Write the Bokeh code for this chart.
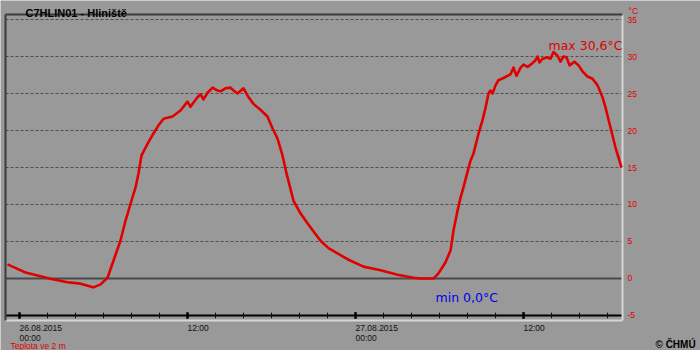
from bokeh.plotting import figure
from bokeh.models import Range1d, Label, ColumnDataSource
from bokeh.core.properties import value
from bokeh.embed import file_html
from bokeh.resources import INLINE

# hours since 26.08.2015 00:00
hours = [-0.86, -0.5, 0.43, 1.5, 2.36, 3.43, 4.36, 5.07, 5.29, 5.79, 6.29, 6.71, 7.21, 7.57,
         7.93, 8.29, 8.5, 8.71, 9.14, 9.57, 9.93, 10.29, 10.93, 11.5, 12.0, 12.21, 12.71,
         12.93, 13.14, 13.43, 13.79, 14.14, 14.36, 14.71, 15.07, 15.29, 15.57, 16.0, 16.29,
         16.71, 17.21, 17.71, 18.07, 18.43, 18.79, 19.07, 19.21, 19.57, 20.07, 20.79, 21.5,
         22.07, 23.43, 24.57, 25.79, 27.0, 28.14, 28.64, 29.57, 29.93, 30.43, 30.79, 31.0,
         31.29, 31.5, 31.71, 32.0, 32.21, 32.43, 32.79, 33.07, 33.29, 33.5, 33.64, 33.79,
         34.0, 34.21, 34.57, 35.07, 35.29, 35.5, 35.79, 36.0, 36.29, 36.64, 36.86, 37.0,
         37.14, 37.36, 37.71, 37.93, 38.14, 38.43, 38.64, 38.86, 39.07, 39.29, 39.64, 39.93,
         40.21, 40.57, 40.93, 41.29, 41.64, 41.86, 42.21, 42.57, 43.0]
temps = [1.9, 1.6, 0.8, 0.3, -0.1, -0.5, -0.7, -1.1, -1.2, -0.8, 0.1, 2.4, 5.1, 7.8,
         10.1, 12.3, 14.2, 16.6, 18.2, 19.6, 20.7, 21.6, 21.9, 22.7, 23.9, 23.2, 24.5,
         24.9, 24.2, 25.1, 25.8, 25.4, 25.3, 25.7, 25.8, 25.4, 25.0, 25.7, 24.7,
         23.6, 22.8, 21.9, 20.3, 18.9, 16.6, 14.2, 13.2, 10.5, 8.8, 6.9, 5.1,
         4.1, 2.6, 1.6, 1.1, 0.5, 0.1, 0.0, 0.0, 0.7, 2.2, 3.8, 6.5,
         9.2, 10.9, 12.3, 14.4, 15.9, 16.9, 19.6, 21.4, 23.1, 25.0, 25.4, 25.0,
         26.1, 26.8, 27.1, 27.6, 28.5, 27.4, 28.5, 28.9, 28.6, 29.1, 29.5, 30.0,
         29.2, 29.7, 29.9, 29.7, 30.6, 30.1, 29.3, 30.0, 29.9, 28.8, 29.3, 28.8,
         28.0, 27.3, 27.0, 26.1, 24.5, 23.1, 20.4, 17.7, 15.0]

x_major_ticks = [0, 12, 24, 36]
x_major_labels = ["26.08.2015\n00:00", "12:00", "27.08.2015\n00:00", "12:00"]
x_minor_ticks = list(range(0, 44, 2))
y_ticks = [-5, 0, 5, 10, 15, 20, 25, 30, 35]
y_tick_labels = ["-5", "0", "5", "10", "15", "20", "25", "30", "35"]
y_grid = [5, 10, 15, 20, 25, 30, 35]

title_text = "C7HLIN01 - Hliniště"
max_text = "max 30,6°C"
min_text = "min 0,0°C"
unit_text = "°C"
series_text = "Teplota ve 2 m"
credit_text = "© ČHMÚ"

BG = "#999999"
RED = "#e00000"
W, H = 700, 350
# plot area (pixels of margin around it) and its data extent
M_LEFT, M_RIGHT, M_TOP, M_BOTTOM = 5, 78, 14, 30
X0, X1 = -1.0, 43.07
Y0, Y1 = -5.68, 35.68
ppx = (W - M_LEFT - M_RIGHT) / (X1 - X0)
ppy = (H - M_TOP - M_BOTTOM) / (Y1 - Y0)

p = figure(width=W, height=H, output_backend="svg", toolbar_location=None,
           x_range=Range1d(X0 - M_LEFT / ppx, X1 + M_RIGHT / ppx),
           y_range=Range1d(Y0 - M_BOTTOM / ppy, Y1 + M_TOP / ppy),
           x_axis_location=None, y_axis_location=None,
           min_border=0, min_border_left=0, min_border_right=0,
           min_border_top=0, min_border_bottom=0)
p.background_fill_color = BG
p.border_fill_color = BG
p.outline_line_color = None
p.xgrid.visible = False
p.ygrid.visible = False

# dashed grid
p.segment(x0=[X0] * len(y_grid), x1=[X1] * len(y_grid), y0=y_grid, y1=y_grid,
          line_color="#505050", line_dash="3 2", line_width=1)
# zero line and axis line at -5
p.segment(x0=[X0], x1=[X1], y0=[0], y1=[0], line_color="#4a4a4a", line_width=2)
p.segment(x0=[X0], x1=[X1], y0=[y_ticks[0]], y1=[y_ticks[0]], line_color="#000000", line_width=2)
# tick marks
p.segment(x0=x_minor_ticks, x1=x_minor_ticks, y0=[y_ticks[0] - 0.38] * len(x_minor_ticks),
          y1=[y_ticks[0] + 0.38] * len(x_minor_ticks), line_color="#111111", line_width=1)
p.segment(x0=x_major_ticks, x1=x_major_ticks, y0=[y_ticks[0] - 0.45] * len(x_major_ticks),
          y1=[y_ticks[0] + 0.45] * len(x_major_ticks), line_color="#000000", line_width=2.5)
# plot-area frame: light right/bottom, dark left/top
p.segment(x0=[X1, X0], x1=[X1, X1], y0=[Y0, Y0], y1=[Y1, Y0], line_color="#d6d6d6", line_width=2)
p.segment(x0=[X0, X0], x1=[X0, X1], y0=[Y0, Y1], y1=[Y1, Y1], line_color="#3c3c3c", line_width=2)

# data
src = ColumnDataSource(data=dict(h=hours, t=temps))
p.line("h", "t", source=src, line_color=RED, line_width=2.6, line_join="round")

# right axis labels
p.text(x=[X1] * len(y_ticks), y=y_ticks, text=y_tick_labels, x_offset=5,
       text_font=value("Liberation Sans"), text_font_size="8.5px", text_color=RED,
       text_align="left", text_baseline="middle")


def lab(text, x, y, size, color, font="Liberation Sans", style="normal", xu="screen"):
    p.add_layout(Label(x=x, y=y, x_units=xu, y_units="screen", text=text,
                       text_font=font, text_font_size=size, text_color=color,
                       text_font_style=style, text_baseline="alphabetic"))


# time labels, left-aligned at their tick
for t, txt in zip(x_major_ticks, x_major_labels):
    for i, line in enumerate(txt.split("\n")):
        lab(line, t, 22.5 - 9.5 * i, "8.5px", "#111111", xu="data")

lab(title_text, 25, 337.5, "11px", "#000000", style="bold")
lab(unit_text, 628, 340, "8.5px", RED)
lab(max_text, 548, 305, "12.5px", RED, font="DejaVu Sans")
lab(min_text, 435, 53, "12.5px", "#0000ee", font="DejaVu Sans")
lab(series_text, 10, 5, "8.5px", RED)
lab(credit_text, 655, 6, "10px", "#000000", style="bold")

open("out.html", "w").write(file_html(p, INLINE))
